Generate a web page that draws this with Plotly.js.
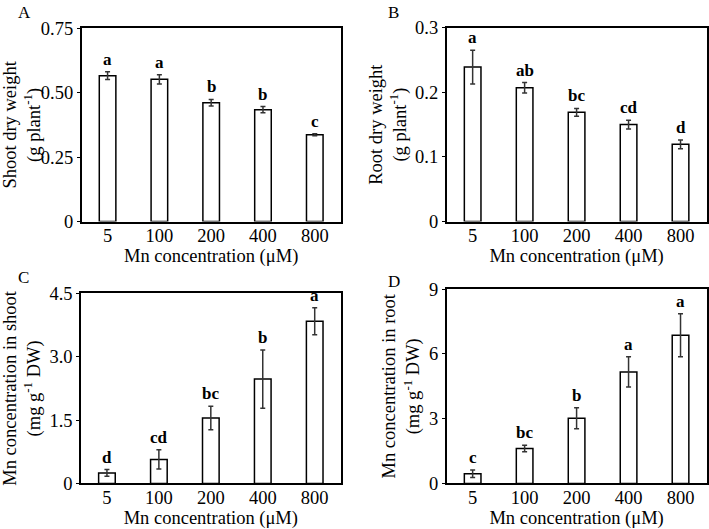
<!DOCTYPE html>
<html>
<head>
<meta charset="utf-8">
<script src="https://cdn.plot.ly/plotly-3.0.1.min.js"></script>
<style>
  html, body { margin: 0; padding: 0; background: #fff; }
  #chart { width: 709px; height: 529px; }
</style>
</head>
<body>
<div id="chart"></div>
<script>
// Mn treatments (uM)
var mnLevels = ["5", "100", "200", "400", "800"];

// A: shoot dry weight (g plant-1)
var shootDW = [0.566, 0.552, 0.461, 0.434, 0.337];
var shootDWErr = [0.015, 0.018, 0.013, 0.012, 0.004];
var shootDWLetters = ["a", "a", "b", "b", "c"];
var shootDWTicks = [0, 0.25, 0.5, 0.75];
var shootDWTickText = ["0", "0.25", "0.50", "0.75"];

// B: root dry weight (g plant-1)
var rootDW = [0.239, 0.207, 0.169, 0.150, 0.1195];
var rootDWErr = [0.026, 0.008, 0.006, 0.0067, 0.0067];
var rootDWLetters = ["a", "ab", "bc", "cd", "d"];
var rootDWTicks = [0, 0.1, 0.2, 0.3];
var rootDWTickText = ["0", "0.1", "0.2", "0.3"];

// C: Mn concentration in shoot (mg g-1 DW)
var shootMn = [0.25, 0.57, 1.55, 2.47, 3.84];
var shootMnErr = [0.08, 0.23, 0.28, 0.69, 0.32];
var shootMnLetters = ["d", "cd", "bc", "b", "a"];
var shootMnTicks = [0, 1.5, 3, 4.5];
var shootMnTickText = ["0", "1.5", "3.0", "4.5"];

// D: Mn concentration in root (mg g-1 DW)
var rootMn = [0.45, 1.62, 3.02, 5.16, 6.86];
var rootMnErr = [0.17, 0.15, 0.49, 0.70, 0.99];
var rootMnLetters = ["c", "bc", "b", "a", "a"];
var rootMnTicks = [0, 3, 6, 9];
var rootMnTickText = ["0", "3", "6", "9"];

var font = "Liberation Serif, Times New Roman, serif";

var panels = [
  {x: "x", y: "y", vals: shootDW, err: shootDWErr, letters: shootDWLetters},
  {x: "x2", y: "y2", vals: rootDW, err: rootDWErr, letters: rootDWLetters},
  {x: "x3", y: "y3", vals: shootMn, err: shootMnErr, letters: shootMnLetters},
  {x: "x4", y: "y4", vals: rootMn, err: rootMnErr, letters: rootMnLetters}
];

var data = [];
var annotations = [];
panels.forEach(function(p) {
  data.push({
    type: "bar",
    x: mnLevels,
    y: p.vals,
    xaxis: p.x,
    yaxis: p.y,
    width: 0.32,
    marker: {color: "#ffffff", line: {color: "#000000", width: 1.5}},
    error_y: {type: "data", array: p.err, visible: true, color: "#333333", thickness: 1.5, width: 2.5},
    hoverinfo: "x+y",
    showlegend: false
  });
  for (var i = 0; i < p.letters.length; i++) {
    annotations.push({
      xref: p.x, yref: p.y,
      x: i, y: p.vals[i] + p.err[i],
      text: "<b>" + p.letters[i] + "</b>",
      showarrow: false,
      xanchor: "center",
      yanchor: "bottom",
      yshift: 1,
      font: {family: font, size: 17, color: "#000"}
    });
  }
});

// panel labels
[["A", 0.022, 0.998], ["B", 0.545, 0.998], ["C", 0.022, 0.467], ["D", 0.545, 0.459]].forEach(function(t) {
  annotations.push({
    xref: "paper", yref: "paper", x: t[1], y: t[2],
    xanchor: "left", yanchor: "top", showarrow: false,
    text: t[0], font: {family: font, size: 17, color: "#000"}
  });
});

function xAxis(domain, anchor) {
  return {
    domain: domain, anchor: anchor,
    type: "category", range: [-0.5, 4.5],
    showline: true, mirror: true, linecolor: "#000", linewidth: 1.5,
    ticks: "", showgrid: false, zeroline: false,
    ticklabelstandoff: -3,
    tickfont: {family: font, size: 18.5, color: "#000"},
    title: {text: "Mn concentration (\u03bcM)", font: {family: font, size: 18.5, color: "#000"}, standoff: 0}
  };
}
function yAxis(domain, anchor, range, tickvals, ticktext, title) {
  return {
    domain: domain, anchor: anchor,
    range: range, tickmode: "array", tickvals: tickvals, ticktext: ticktext,
    showline: true, mirror: true, linecolor: "#000", linewidth: 1.5,
    ticks: "outside", ticklen: 3, tickwidth: 1, tickcolor: "#000",
    showgrid: false, zeroline: false,
    tickfont: {family: font, size: 18.5, color: "#000"},
    title: {text: title, font: {family: font, size: 18.5, color: "#000"}, standoff: 4}
  };
}

var layout = {
  width: 709, height: 529,
  margin: {l: 0, r: 0, t: 0, b: 30},
  paper_bgcolor: "#fff", plot_bgcolor: "#fff",
  font: {family: font, color: "#000"},
  xaxis: xAxis([0.1152, 0.4805], "y"),
  yaxis: yAxis([0.5561, 0.9433], "x", [0, 0.75], shootDWTicks, shootDWTickText,
    "Shoot dry weight<br>(g plant<sup>-1</sup>)"),
  xaxis2: xAxis([0.630, 0.9965], "y2"),
  yaxis2: yAxis([0.5561, 0.9445], "x2", [0, 0.3], rootDWTicks, rootDWTickText,
    "Root dry weight<br>(g plant<sup>-1</sup>)"),
  xaxis3: xAxis([0.1142, 0.4805], "y3"),
  yaxis3: yAxis([0.0311, 0.4122], "x3", [0, 4.5], shootMnTicks, shootMnTickText,
    "Mn concentration in shoot<br>(mg g<sup>-1</sup> DW)"),
  xaxis4: xAxis([0.630, 0.9965], "y4"),
  yaxis4: yAxis([0.0311, 0.4208], "x4", [0, 9], rootMnTicks, rootMnTickText,
    "Mn concentration in root<br>(mg g<sup>-1</sup> DW)"),
  annotations: annotations
};

Plotly.newPlot("chart", data, layout, {displayModeBar: false});
</script>
</body>
</html>
